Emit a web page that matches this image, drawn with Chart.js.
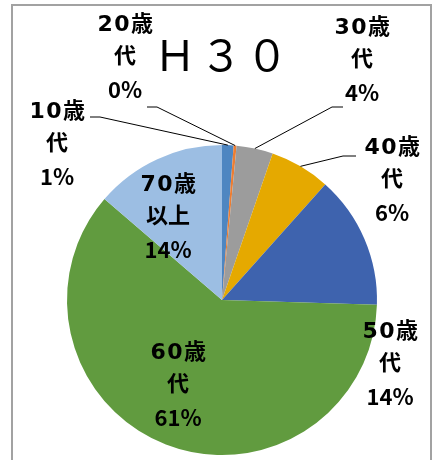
<!DOCTYPE html>
<html>
<head>
<meta charset="utf-8">
<script src="https://cdn.jsdelivr.net/npm/chart.js@4"></script>
<style>
  html, body { margin: 0; padding: 0; background: #fff; overflow: hidden; }
  #frame { position: absolute; left: 11px; top: 4px; width: 417px; height: 520px; border: 2px solid #a2a2a2; border-bottom: none; }
  #wrap { position: absolute; left: 0; top: 0; width: 446px; height: 480px; }
</style>
</head>
<body>
<div id="frame"></div>
<div id="wrap"><canvas id="pie_h30" width="446" height="480"></canvas></div>
<script>
const titleText = 'Ｈ３０';
const ageGroups = ['10歳代', '20歳代', '30歳代', '40歳代', '50歳代', '60歳代', '70歳以上'];
const shares = [1.2, 0.3, 3.8, 6.3, 13.9, 60.8, 13.7]; // 割合 (%)
const sliceColors = ['#4E86C1', '#ED7D31', '#9C9C9C', '#E5A900', '#3E63AE', '#619B3F', '#9CBEE3'];

// ラベル位置 (円の中心からのずれ) と引き出し線
const labelSpots = [
    { dx: -165, dy: -188, leader: { x1: -132, x2: -122, y: -183 } },
    { dx: -97, dy: -275, leader: { x1: -75, x2: -65, y: -193 } },
    { dx: 140, dy: -272, leader: { x1: 121, x2: 110, y: -193 } },
    { dx: 170, dy: -152, leader: { x1: 134, x2: 121, y: -144 } },
    { dx: 168, dy: 32 },
    { dx: -44, dy: 53 },
    { dx: -54, dy: -115 },
];

const labelPlugin = {
    id: 'labelPlugin',
    afterDraw(chart) {
        const ctx = chart.ctx;
        const meta = chart.getDatasetMeta(0);
        const cx = meta.data[0].x;
        const cy = meta.data[0].y;
        const data = chart.data.datasets[0].data;
        const total = data.reduce((acc, val) => acc + val, 0);

        ctx.save();
        // タイトル
        ctx.fillStyle = '#000';
        ctx.textAlign = 'center';
        ctx.textBaseline = 'middle';
        ctx.font = "42px 'Noto Sans CJK JP', sans-serif";
        ctx.letterSpacing = '4px';
        ctx.fillText(titleText, cx + 1, cy - 245);

        meta.data.forEach((arc, i) => {
            const spot = labelSpots[i];
            const lx = cx + spot.dx;
            const ly = cy + spot.dy;
            // 引き出し線
            if (spot.leader) {
                const mid = (arc.startAngle + arc.endAngle) / 2;
                const ex = cx + Math.cos(mid) * arc.outerRadius;
                const ey = cy + Math.sin(mid) * arc.outerRadius;
                ctx.strokeStyle = '#000';
                ctx.lineWidth = 1;
                ctx.beginPath();
                ctx.moveTo(cx + spot.leader.x1, cy + spot.leader.y);
                ctx.lineTo(cx + spot.leader.x2, cy + spot.leader.y);
                ctx.lineTo(ex, ey);
                ctx.stroke();
            }
            const name = ageGroups[i];
            const cut = name.indexOf('歳') + 1;
            const pct = Math.round(data[i] / total * 100) + '%';
            ctx.fillStyle = '#000';
            ctx.font = "bold 22px 'DejaVu Sans', 'Noto Sans CJK JP', sans-serif";
            ctx.letterSpacing = '1.5px';
            ctx.fillText(name.slice(0, cut), lx + 1, ly);
            ctx.letterSpacing = '0px';
            ctx.fillText(name.slice(cut), lx, ly + 32.5);
            ctx.font = "bold 22px 'Noto Sans CJK JP', sans-serif";
            ctx.fillText(pct, lx, ly + 65);
        });
        ctx.restore();
    }
};

const ctx1 = document.getElementById('pie_h30').getContext('2d');
const pie_h30 = new Chart(ctx1, {
    type: 'pie',
    data: {
        labels: ageGroups,
        datasets: [{
            data: shares,
            backgroundColor: sliceColors,
            borderWidth: 0,
        }]
    },
    options: {
        responsive: false,
        animation: false,
        events: [],
        plugins: {
            legend: { display: false },
            title: { display: false },
            tooltip: { enabled: false },
        },
        layout: {
            padding: { left: 67, right: 69, top: 145, bottom: 25 }
        }
    },
    plugins: [labelPlugin]
});
</script>
</body>
</html>
